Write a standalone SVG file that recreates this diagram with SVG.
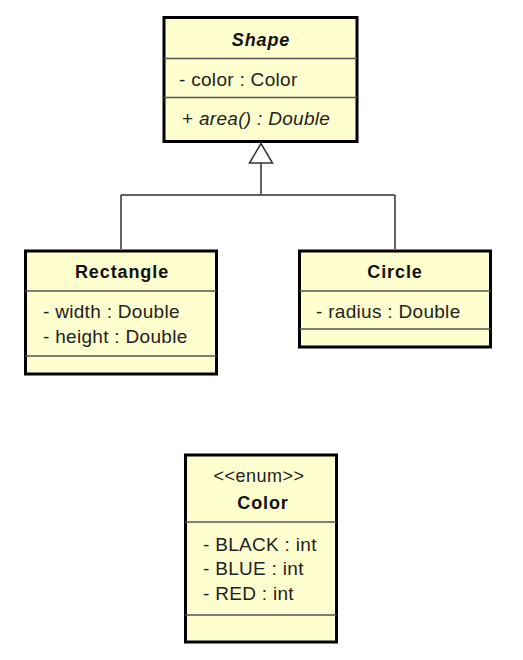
<svg xmlns="http://www.w3.org/2000/svg" width="523" height="660" viewBox="0 0 523 660">
<style>
.box{fill:#FEFECE;stroke:#000;stroke-width:3}
.sep{stroke:#555;stroke-width:1.5}
.t{font-family:"Liberation Sans",Arial,sans-serif;font-size:19px;fill:#222;letter-spacing:0.3px}
.h{font-family:"Liberation Sans",Arial,sans-serif;font-size:18px;font-weight:bold;fill:#111;letter-spacing:0.9px;text-anchor:middle}
.st{font-family:"Liberation Sans",Arial,sans-serif;font-size:18px;fill:#222;letter-spacing:0.5px;text-anchor:middle}
.i{font-style:italic}
.conn{fill:none;stroke:#333;stroke-width:1.5}
</style>
<rect width="523" height="660" fill="#fff"/>
<g id="connectors">
<path class="conn" d="M261,163 V195 M121,195 H395 M121,195 V249 M395,195 V249"/>
<polygon points="261,143.5 249.5,163 272.5,163" fill="#fff" stroke="#333" stroke-width="1.5"/>
</g>
<g id="Shape">
<rect class="box" x="164" y="17.5" width="193" height="124"/>
<line class="sep" x1="164" y1="58.5" x2="357" y2="58.5"/>
<line class="sep" x1="164" y1="97.5" x2="357" y2="97.5"/>
<text class="h i" x="261" y="46">Shape</text>
<text class="t" x="179" y="86">- color : Color</text>
<text class="t" x="182" y="125">+ <tspan class="i">area() : Double</tspan></text>
</g>
<g id="Rectangle">
<rect class="box" x="25.5" y="251" width="191" height="123"/>
<line class="sep" x1="25.5" y1="291" x2="216.5" y2="291"/>
<line class="sep" x1="25.5" y1="356" x2="216.5" y2="356"/>
<text class="h" x="122" y="278">Rectangle</text>
<text class="t" x="43" y="318">- width : Double</text>
<text class="t" x="43" y="343">- height : Double</text>
</g>
<g id="Circle">
<rect class="box" x="299.5" y="251" width="191" height="96"/>
<line class="sep" x1="299.5" y1="291" x2="490.5" y2="291"/>
<line class="sep" x1="299.5" y1="329" x2="490.5" y2="329"/>
<text class="h" x="395" y="278">Circle</text>
<text class="t" x="316" y="318">- radius : Double</text>
</g>
<g id="Color">
<rect class="box" x="185.5" y="455" width="151" height="187"/>
<line class="sep" x1="185.5" y1="522" x2="336.5" y2="522"/>
<line class="sep" x1="185.5" y1="615" x2="336.5" y2="615"/>
<text class="st" x="259" y="482">&lt;&lt;enum&gt;&gt;</text>
<text class="h" x="263" y="509">Color</text>
<text class="t" x="203" y="551">- BLACK : int</text>
<text class="t" x="203" y="575">- BLUE : int</text>
<text class="t" x="203" y="600">- RED : int</text>
</g>
</svg>
